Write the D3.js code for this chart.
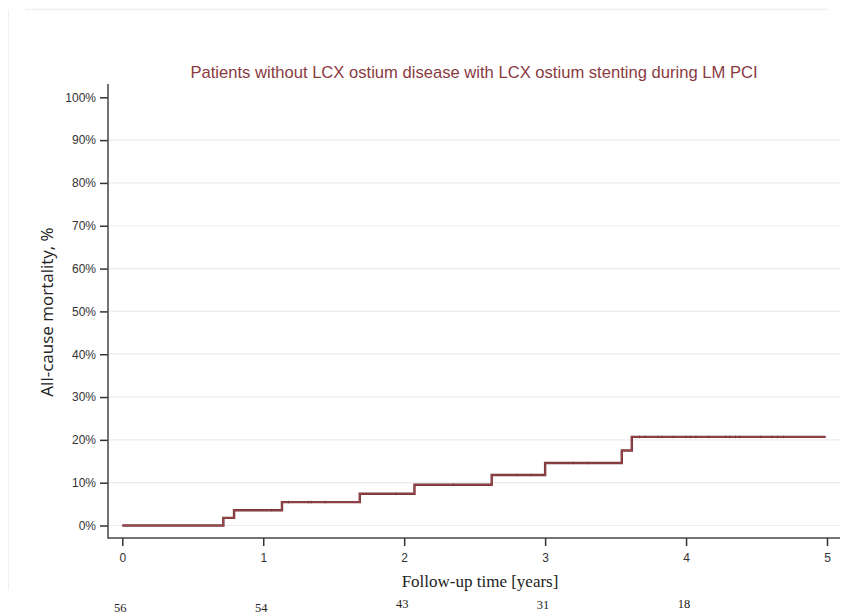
<!DOCTYPE html>
<html>
<head>
<meta charset="utf-8">
<script src="https://cdn.jsdelivr.net/npm/d3@7"></script>
<style>
  html, body { margin: 0; padding: 0; background: #fff; }
  svg { display: block; }
</style>
</head>
<body>
<div id="chart"></div>
<script>
// KM cumulative mortality
const stepTimes = [0, 0.717, 0.793, 1.133, 1.685, 2.073, 2.621, 3.0, 3.544, 3.615];
const stepValues = [0, 0.0179, 0.0357, 0.0547, 0.0743, 0.0953, 0.118, 0.146, 0.175, 0.207];
const endTime = 4.99;
const censorTimes = [1.06, 1.18, 1.32, 1.34, 1.44, 1.94, 2.35, 2.8, 2.9, 3.2, 3.3,
  3.67, 3.71, 3.80, 3.83, 3.91, 4.0, 4.03, 4.07, 4.16, 4.28, 4.31, 4.35, 4.38, 4.53, 4.61, 4.65, 4.69];

const xTicks = [0, 1, 2, 3, 4, 5];
const yTicks = [0, 0.1, 0.2, 0.3, 0.4, 0.5, 0.6, 0.7, 0.8, 0.9, 1.0];
const atRiskTimes = [0, 1, 2, 3, 4];
const atRiskCounts = [56, 54, 43, 31, 18];
const atRiskOffsetY = [607, 607, 603, 604, 603];

const width = 842, height = 615;

const svg = d3.select('#chart').append('svg')
  .attr('width', width).attr('height', height);

// faint outer panel edges
svg.append('line').attr('x1', 25).attr('x2', 828).attr('y1', 9.5).attr('y2', 9.5)
  .attr('stroke', '#eef0f0').attr('stroke-width', 1.5);
svg.append('line').attr('x1', 8.5).attr('x2', 8.5).attr('y1', 10).attr('y2', 590)
  .attr('stroke', '#eef2f2').attr('stroke-width', 1);

const x = d3.scaleLinear().domain([0, 5]).range([122.3, 827]);
const y = d3.scaleLinear().domain([0, 1]).range([525.5, 97.3]);

const axisX = 108, axisY = 538;

// grid lines
svg.append('g').selectAll('line')
  .data(yTicks.filter(d => d < 1))
  .enter().append('line')
  .attr('x1', axisX + 1).attr('x2', 840)
  .attr('y1', d => y(d)).attr('y2', d => y(d))
  .attr('stroke', '#ececec').attr('stroke-width', 1.2);

// y axis
const yAxis = d3.axisLeft(y).tickValues(yTicks)
  .tickFormat(d => Math.round(d * 100) + '%')
  .tickSizeOuter(0).tickSizeInner(8).tickPadding(4);
const gy = svg.append('g').attr('transform', `translate(${axisX},0)`).call(yAxis);
gy.select('.domain').remove();
gy.selectAll('.tick line').attr('stroke', '#333').attr('stroke-width', 1.5);
gy.selectAll('.tick text').attr('fill', '#333')
  .style('font-family', '"Liberation Sans", Arial, sans-serif').style('font-size', '12px');

// x axis
const xAxis = d3.axisBottom(x).tickValues(xTicks).tickFormat(d3.format('d'))
  .tickSizeOuter(0).tickSizeInner(8).tickPadding(7);
const gx = svg.append('g').attr('transform', `translate(0,${axisY})`).call(xAxis);
gx.select('.domain').remove();
gx.selectAll('.tick line').attr('stroke', '#333').attr('stroke-width', 1.5);
gx.selectAll('.tick text').attr('fill', '#333')
  .style('font-family', '"Liberation Sans", Arial, sans-serif').style('font-size', '12px');

// axis lines (offset from plot region, Stata style)
svg.append('line').attr('x1', axisX).attr('x2', axisX).attr('y1', 84).attr('y2', axisY + 0.75)
  .attr('stroke', '#444').attr('stroke-width', 1.5);
svg.append('line').attr('x1', axisX).attr('x2', 840).attr('y1', axisY).attr('y2', axisY)
  .attr('stroke', '#444').attr('stroke-width', 1.5);

// step curve
const pts = stepTimes.map((t, i) => [t, stepValues[i]]);
pts.push([endTime, stepValues[stepValues.length - 1]]);
const stepLine = d3.line().x(d => x(d[0])).y(d => y(d[1])).curve(d3.curveStepAfter);
svg.append('path').datum(pts)
  .attr('d', stepLine)
  .attr('fill', 'none')
  .attr('stroke', '#6e3338').attr('stroke-width', 2.4);
svg.append('path').datum(pts)
  .attr('d', stepLine)
  .attr('fill', 'none')
  .attr('stroke', '#a0474b').attr('stroke-width', 1.1);

// censor marks
const valueAt = t => {
  let v = 0;
  stepTimes.forEach((s, i) => { if (t >= s) v = stepValues[i]; });
  return v;
};
svg.append('g').selectAll('line')
  .data(censorTimes)
  .enter().append('line')
  .attr('x1', d => x(d)).attr('x2', d => x(d))
  .attr('y1', d => y(valueAt(d)) - 1.5).attr('y2', d => y(valueAt(d)) + 1.5)
  .attr('stroke', '#6a3035').attr('stroke-width', 0.8).attr('opacity', 0.6);

// title
svg.append('text')
  .attr('x', 474).attr('y', 77.5)
  .attr('text-anchor', 'middle')
  .attr('fill', '#8a3b3f')
  .style('font-family', '"Liberation Sans", Arial, sans-serif')
  .style('font-size', '16.6px')
  .text('Patients without LCX ostium disease with LCX ostium stenting during LM PCI');

// y title
svg.append('text')
  .attr('transform', 'translate(53,312) rotate(-90)')
  .attr('text-anchor', 'middle')
  .attr('fill', '#222')
  .style('font-family', '"Open Sans", "Noto Sans", sans-serif')
  .style('font-size', '17px')
  .text('All-cause mortality, %');

// x title
svg.append('text')
  .attr('x', 480).attr('y', 587)
  .attr('text-anchor', 'middle')
  .attr('fill', '#222')
  .style('font-family', '"Liberation Serif", "Times New Roman", serif')
  .style('font-size', '17px')
  .text('Follow-up time [years]');

// numbers at risk
svg.append('g').selectAll('text')
  .data(atRiskCounts)
  .enter().append('text')
  .attr('x', (d, i) => x(atRiskTimes[i]) - 2)
  .attr('y', (d, i) => atRiskOffsetY[i] + 4.5)
  .attr('text-anchor', 'middle')
  .attr('fill', '#222')
  .style('font-family', '"Liberation Serif", "Times New Roman", serif')
  .style('font-size', '12.5px')
  .text(d => d);
</script>
</body>
</html>
